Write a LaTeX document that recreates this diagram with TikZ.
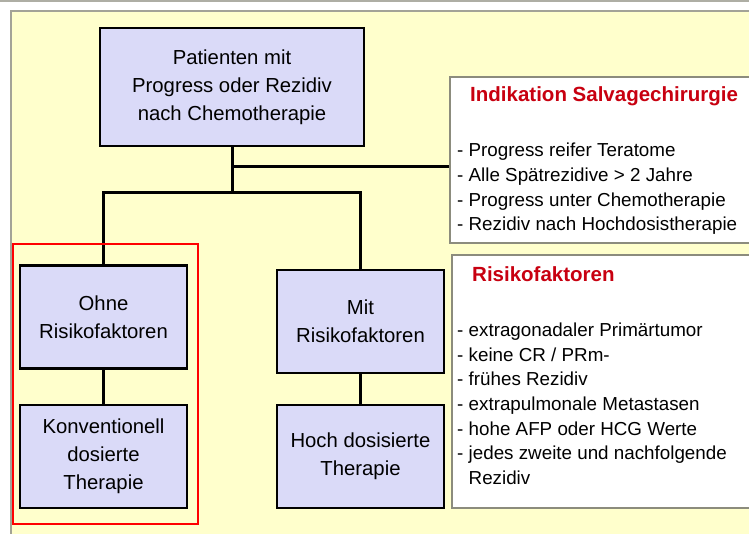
\documentclass[tikz,border=0pt]{standalone}
\usepackage{fontspec}
\setmainfont{Liberation Sans}
\usetikzlibrary{positioning}
\definecolor{hellgelb}{RGB}{255,255,204}
\definecolor{lila}{RGB}{218,218,248}
\definecolor{titelrot}{RGB}{200,0,16}
\definecolor{rahmengrau}{RGB}{140,140,125}
\begin{document}
\begin{tikzpicture}[x = 1pt, y = -1pt,
                box/.style = {draw = black, line width = 2.6pt, fill = lila, align = center,
                        minimum width = 167pt, minimum height = 103pt, inner sep = 0pt,
                        font = \fontsize{20.3}{28}\selectfont},
                infobox/.style = {draw = rahmengrau, line width = 1.6pt, fill = white, inner sep = 0pt},
                liste/.style = {anchor = north west, align = left, inner sep = 0pt,
                        font = \fontsize{18.8}{24.7}\selectfont},
                titel/.style = {anchor = base west, inner sep = 0pt, text = titelrot,
                        font = \fontsize{20.5}{24}\selectfont\bfseries},
                linie/.style = {black, line width = 3pt}]
                \useasboundingbox (0,0) rectangle (749,534);
                % background
                \fill[white] (0,0) rectangle (749,534);
                \draw[rahmengrau!70, line width = 1.5pt] (0,1) -- (749,1);
                \fill[hellgelb] (11,11) rectangle (749,534);
                \draw[rahmengrau!80, line width = 1.5pt] (11,534) -- (11,11) -- (749,11);
                % info boxes on the right
                \node[infobox, minimum width = 306pt, minimum height = 166pt] (indikation) at (603,160) {};
                \node[infobox, minimum width = 304pt, minimum height = 253pt] (risiko) at (604,381.5) {};
                \node[titel] (indtitel) at (470,102) {Indikation Salvagechirurgie};
                \node[liste] (indliste) at (457,143) {- Progress reifer Teratome\\
                        - Alle Spätrezidive > 2 Jahre\\
                        - Progress unter Chemotherapie\\
                        - Rezidiv nach Hochdosistherapie};
                \node[titel] (risikotitel) at (472,282) {Risikofaktoren};
                \node[liste] (risikoliste) at (457,322.5) {- extragonadaler Primärtumor\\
                        - keine CR / PRm-\\
                        - frühes Rezidiv\\
                        - extrapulmonale Metastasen\\
                        - hohe AFP oder HCG Werte\\
                        - jedes zweite und nachfolgende\\
                        \hphantom{- }Rezidiv};
                % tree
                \node[box, minimum width = 264pt, minimum height = 118pt] (patienten) at (232,87)
                        {Patienten mit\\ Progress oder Rezidiv\\ nach Chemotherapie};
                \node[box] (ohne) at (103.5,317) {Ohne\\ Risikofaktoren};
                \node[box] (konv) at (103.5,456.5) {Konventionell\\ dosierte\\ Therapie};
                \node[box] (mit) at (360.5,321.5) {Mit\\ Risikofaktoren};
                \node[box] (hoch) at (360.5,456.5) {Hoch dosisierte\\ Therapie};
                \coordinate (abzweig) at (232,167);
                \coordinate (gabel) at (232,193);
                \draw[linie] (patienten.south) -- (gabel);
                \draw[linie] (abzweig) -- (abzweig -| indikation.west);
                \draw[linie] (ohne.north) |- (gabel) -| (mit.north);
                \draw[linie] (ohne) -- (konv);
                \draw[linie] (mit) -- (hoch);
                % frame
                \draw[red, line width = 2pt] (13,244) rectangle (198,524);
            \end{tikzpicture}
\end{document}
